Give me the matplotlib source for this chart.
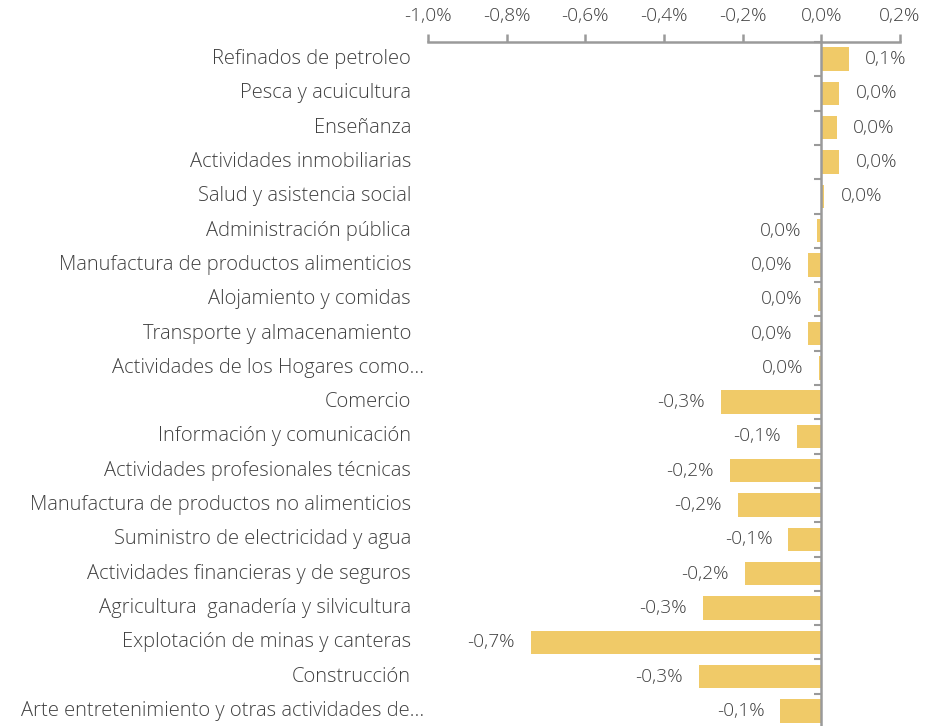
import matplotlib
matplotlib.use('Agg')
import matplotlib.pyplot as plt
import matplotlib.transforms as mtransforms
import numpy as np

sectores = [
    'Refinados de petroleo',
    'Pesca y acuicultura',
    'Enseñanza',
    'Actividades inmobiliarias',
    'Salud y asistencia social',
    'Administración pública',
    'Manufactura de productos alimenticios',
    'Alojamiento y comidas',
    'Transporte y almacenamiento',
    'Actividades de los Hogares como...',
    'Comercio',
    'Información y comunicación',
    'Actividades profesionales técnicas',
    'Manufactura de productos no alimenticios',
    'Suministro de electricidad y agua',
    'Actividades financieras y de seguros',
    'Agricultura  ganadería y silvicultura',
    'Explotación de minas y canteras',
    'Construcción',
    'Arte entretenimiento y otras actividades de...',
]
# contribucion en puntos porcentuales
valores = [0.071, 0.046, 0.040, 0.046, 0.008, -0.010, -0.033, -0.008, -0.033, -0.005,
           -0.256, -0.063, -0.233, -0.213, -0.084, -0.195, -0.302, -0.739, -0.312, -0.104]
ticks_x = [-1.0, -0.8, -0.6, -0.4, -0.2, 0.0, 0.2]

color_barra = '#F0CA68'
color_texto = '#404040'
color_eje = '#9A9A9A'
fuente = 'Open Sans'
peso = 'light'
fs_cat = 14.5
fs_num = 13.8

fig = plt.figure(figsize=(9.26, 7.26), dpi=100)
ax = fig.add_axes([428 / 926, -2 / 726, 472 / 926, 686 / 726])

y = np.arange(len(sectores))
ax.barh(y, valores, height=0.68, color=color_barra, zorder=2)

ax.set_xlim(-1.0, 0.2)
ax.set_ylim(len(sectores) - 0.5, -0.5)

ax.xaxis.tick_top()
ax.set_xticks(ticks_x)
ax.set_xticklabels([('%.1f%%' % t).replace('.', ',') for t in ticks_x],
                   fontsize=fs_num, color=color_texto, family=fuente, weight=peso)
ax.tick_params(axis='x', direction='out', length=6, width=1.8, color=color_eje, pad=6)

for s in ['right', 'bottom']:
    ax.spines[s].set_visible(False)
ax.spines['top'].set_color(color_eje)
ax.spines['top'].set_linewidth(1.8)
ax.spines['left'].set_position(('data', 0))
ax.spines['left'].set_color(color_eje)
ax.spines['left'].set_linewidth(1.8)
ax.spines['left'].set_zorder(3)

ax.set_yticks([])
ax.set_yticks(np.arange(-0.5, len(sectores), 1), minor=True)
ax.tick_params(axis='y', which='minor', direction='out', length=5, width=1.5,
               color=color_eje, labelleft=False)

# etiquetas de categoria a la izquierda del area de grafico
trans = mtransforms.blended_transform_factory(ax.transAxes, ax.transData)
for i, s in enumerate(sectores):
    # las etiquetas recortadas por Excel sobresalen un poco
    pad = 4 if s.endswith('...') else 17
    offset = mtransforms.ScaledTranslation(-pad / 100, 0, fig.dpi_scale_trans)
    ax.text(0, i, s, transform=trans + offset, ha='right', va='center',
            fontsize=fs_cat, color=color_texto, family=fuente, weight=peso)

# etiquetas de valor
for i, v in enumerate(valores):
    txt = ('%.1f%%' % v).replace('.', ',')
    if txt.startswith('-0,0'):
        txt = txt[1:]
    dx = 16 / 100 if v >= 0 else -16 / 100
    off = mtransforms.ScaledTranslation(dx, 0, fig.dpi_scale_trans)
    ax.text(v, i, txt, transform=ax.transData + off,
            ha='left' if v >= 0 else 'right', va='center',
            fontsize=fs_num, color=color_texto, family=fuente, weight=peso)

plt.savefig('out.png', dpi=100)
